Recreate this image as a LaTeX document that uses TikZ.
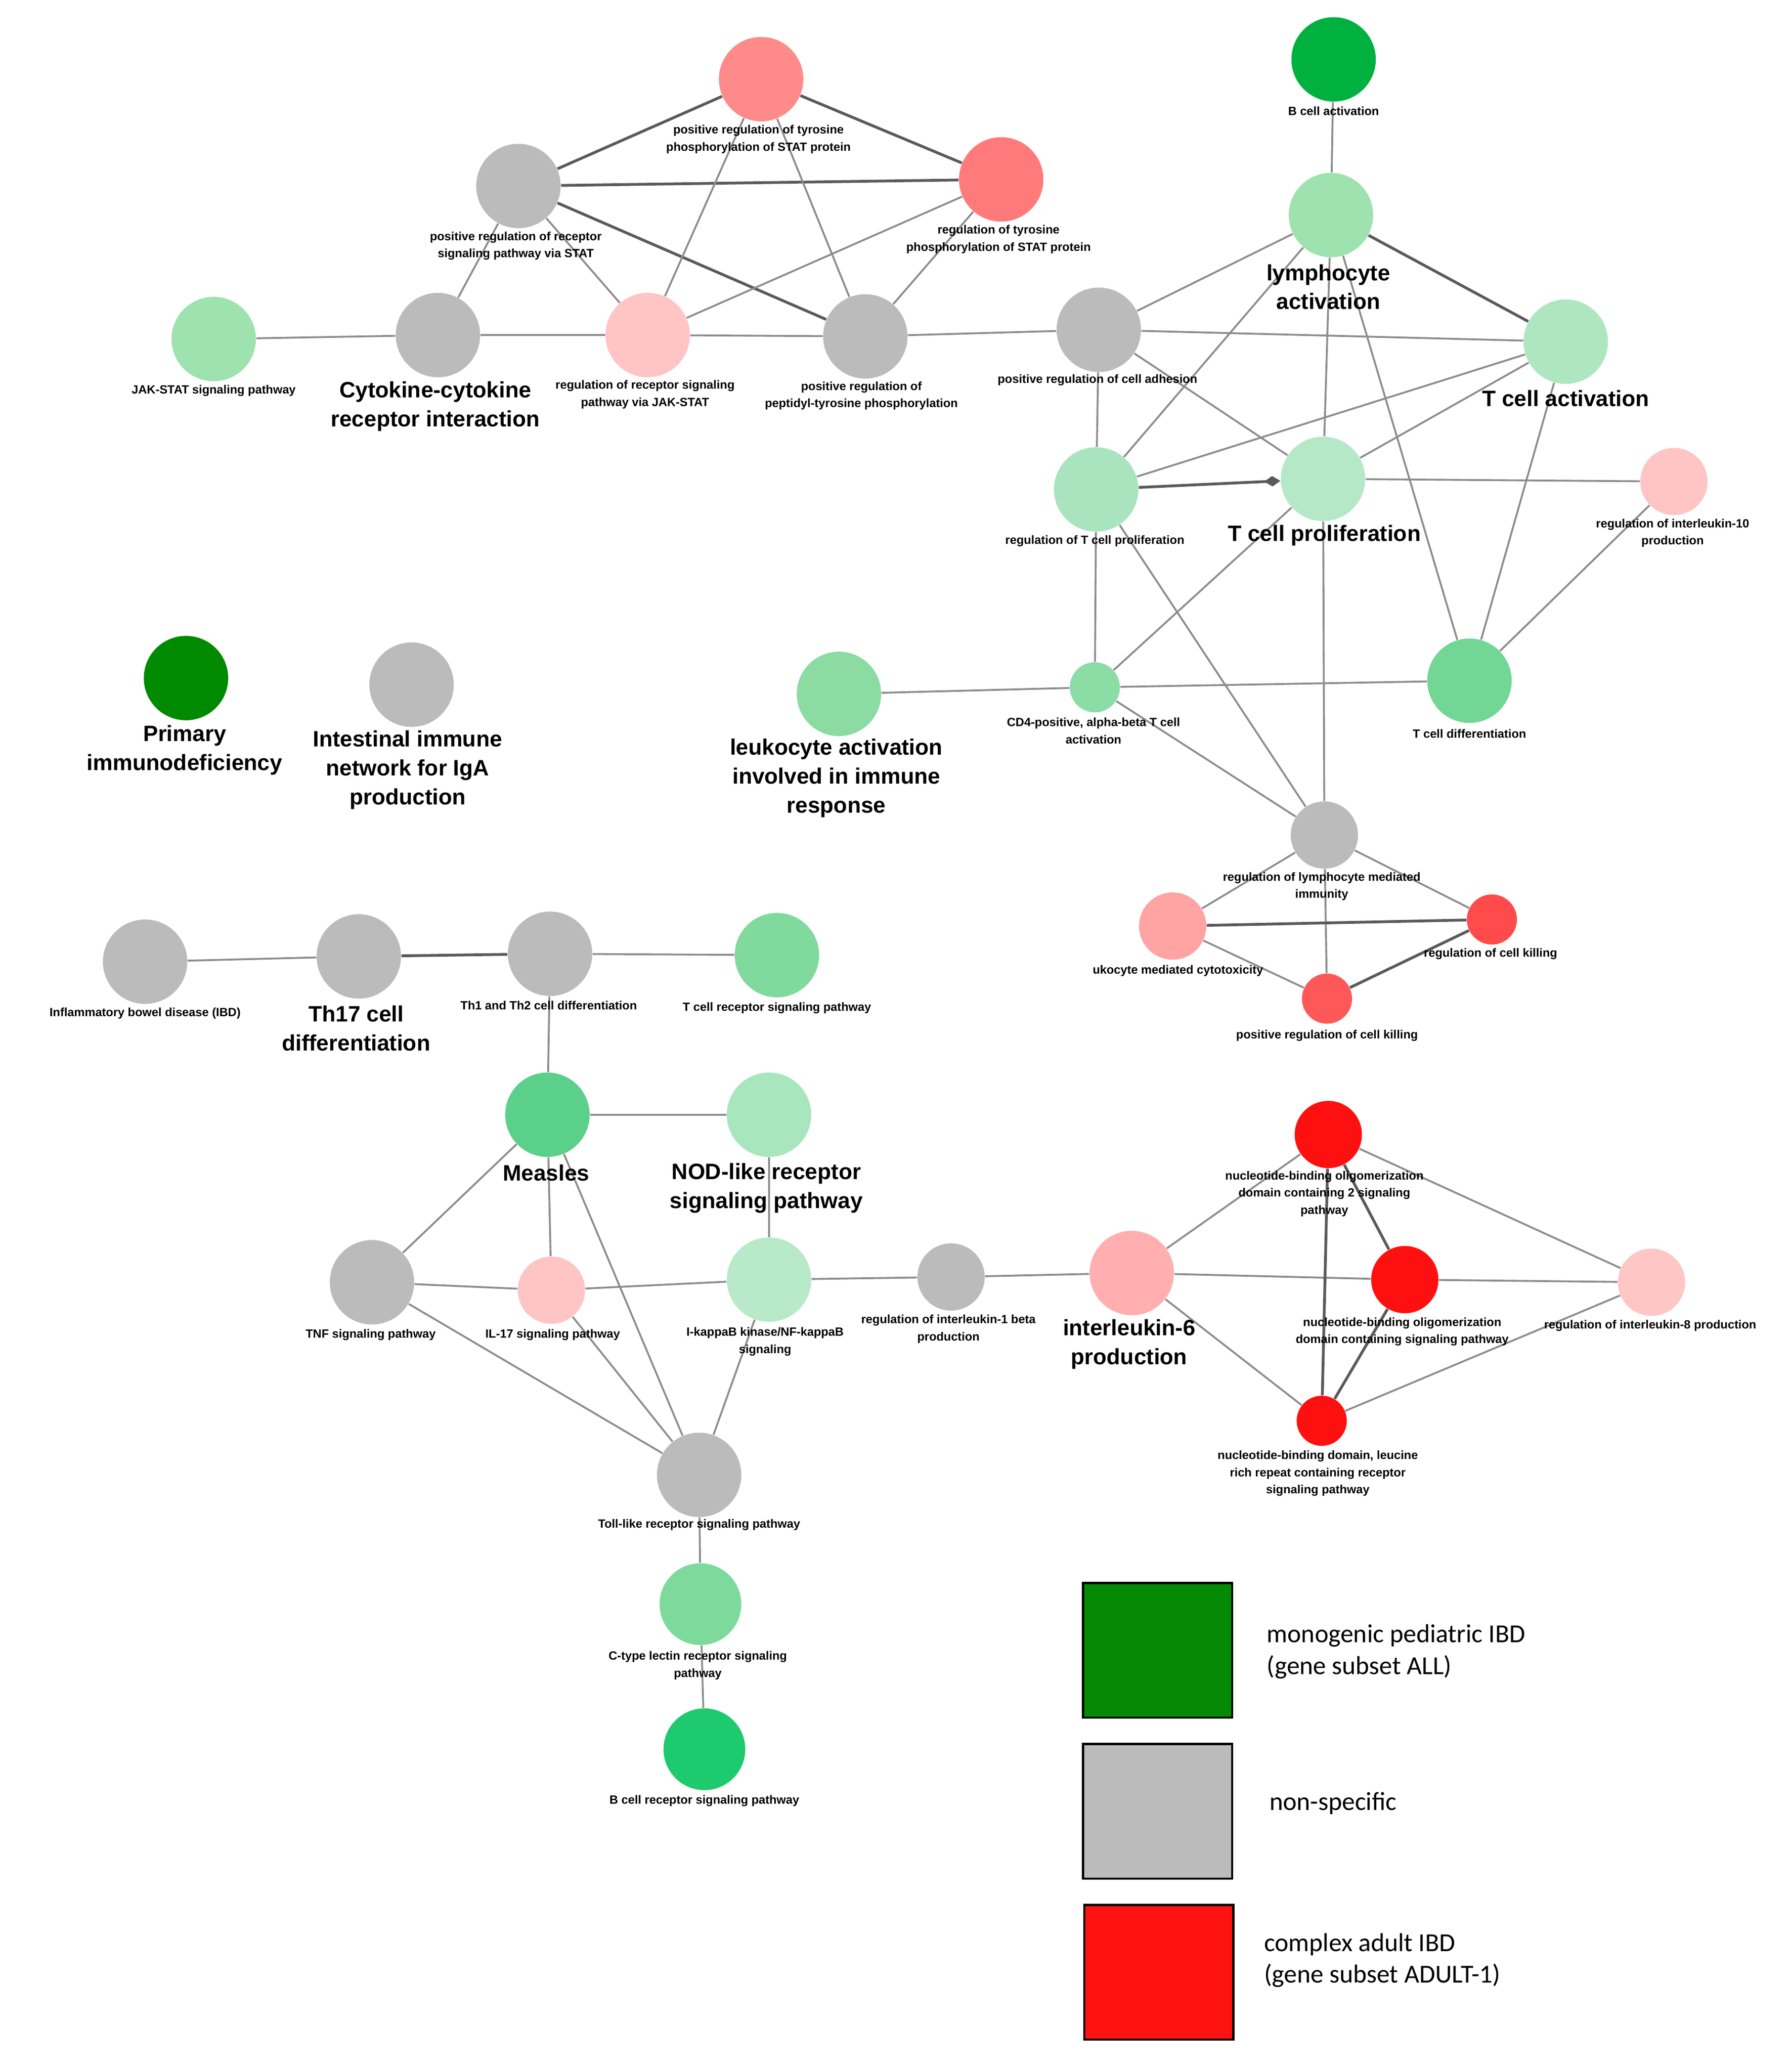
\documentclass[tikz,border=0pt]{standalone}
\usepackage{fontspec}
\setmainfont{Liberation Sans}
\newfontfamily\smallf{Liberation Sans Bold}
\newfontfamily\bigf{Liberation Sans Bold}
\newfontfamily\legf{Carlito}
\usetikzlibrary{arrows.meta}
\definecolor{ngrey}{HTML}{BBBBBB}
\definecolor{edgec}{HTML}{8C8C8C}
\definecolor{edged}{HTML}{5A5A5A}
\definecolor{cA}{HTML}{FF8A8A}
\definecolor{cB}{HTML}{FF7B7B}
\definecolor{cC}{HTML}{FFC4C4}
\definecolor{cD}{HTML}{FFC6C6}
\definecolor{cE}{HTML}{FFA3A3}
\definecolor{cF}{HTML}{FF4B4B}
\definecolor{cG}{HTML}{FF5858}
\definecolor{cH}{HTML}{FF1010}
\definecolor{cI}{HTML}{FFAFAF}
\definecolor{gA}{HTML}{00B140}
\definecolor{gB}{HTML}{9EE2B0}
\definecolor{gC}{HTML}{AEE6C0}
\definecolor{gD}{HTML}{A9E4BE}
\definecolor{gE}{HTML}{B5E8C6}
\definecolor{gF}{HTML}{8CDCA5}
\definecolor{gG}{HTML}{72D694}
\definecolor{gH}{HTML}{8BDBA3}
\definecolor{gI}{HTML}{80DA9E}
\definecolor{gJ}{HTML}{5AD08A}
\definecolor{gK}{HTML}{A8E6BD}
\definecolor{gL}{HTML}{B8E9C8}
\definecolor{gM}{HTML}{7DDA9C}
\definecolor{gN}{HTML}{1ECA6E}
\definecolor{gO}{HTML}{008A00}
\definecolor{lgG}{HTML}{058A05}
\definecolor{lgR}{HTML}{FF1212}
\tikzset{
  term/.style={circle,inner sep=0pt,minimum size=1.28cm,fill=#1,draw=none},
  mid/.style={minimum size=1.02cm},
  tiny/.style={minimum size=0.76cm},
  lab/.style={font=\smallf\fontsize{5.15}{7.4}\selectfont,align=center,inner sep=0pt},
  blab/.style={font=\bigf\fontsize{9.6}{12.5}\selectfont,align=center,inner sep=0pt},
  leg/.style={font=\legf\fontsize{11.2}{13.6}\selectfont,align=left,inner sep=0pt,anchor=west},
  legbox/.style={rectangle,draw=black,line width=0.9pt,minimum width=2.26cm,minimum height=2.04cm,inner sep=0pt,fill=#1},
  lk/.style={draw=edgec,line width=0.8pt},
  lkd/.style={draw=edged,line width=1.2pt},
}
\begin{document}
\begin{tikzpicture}[x=0.02cm,y=-0.02cm]
\fill[white] (0,0) rectangle (1357,1570.66);
\useasboundingbox (0,0) rectangle (1357,1570.66);

% ---------- top-left cluster ----------
\node[term=cA] (posTyr) at (577,60) {};
\node[term=cB] (regTyr) at (759,136) {};
\node[term=ngrey] (posRec) at (393,141) {};
\node[term=gB] (jak) at (162,257) {};
\node[term=ngrey] (cyto) at (332,254) {};
\node[term=cC] (regRec) at (491,254) {};
\node[term=ngrey] (posPep) at (656,255) {};

% ---------- right cluster ----------
\node[term=gA] (bact) at (1011,45) {};
\node[term=gB] (lymph) at (1009,163) {};
\node[term=ngrey] (adh) at (833,250) {};
\node[term=gC] (tact) at (1187,259) {};
\node[term=gD] (regTp) at (831,371) {};
\node[term=gE] (tprol) at (1003,363) {};
\node[term=cC,mid] (il10) at (1269,365) {};
\node[term=gF,tiny] (cd4) at (830,521) {};
\node[term=gG] (tdiff) at (1114,516) {};
\node[term=gH] (leuk) at (636,526) {};
\node[term=ngrey,mid] (lymi) at (1004,633) {};
\node[term=cE,mid] (lcyt) at (889,702) {};
\node[term=cF,tiny] (rck) at (1131,697) {};
\node[term=cG,tiny] (pck) at (1006,757) {};

% ---------- isolated ----------
\node[term=gO] (pid) at (141,514) {};
\node[term=ngrey] (iga) at (312,519) {};

% ---------- bottom-left cluster ----------
\node[term=ngrey] (ibd) at (110,729) {};
\node[term=ngrey] (th17) at (272,725) {};
\node[term=ngrey] (th12) at (417,723) {};
\node[term=gI] (tcr) at (589,724) {};
\node[term=gJ] (meas) at (415,845) {};
\node[term=gK] (nod) at (583,845) {};
\node[term=ngrey] (tnf) at (282,972) {};
\node[term=cC,mid] (il17) at (418,978) {};
\node[term=gL] (ikb) at (583,970) {};
\node[term=ngrey,mid] (il1b) at (721,968) {};
\node[term=ngrey] (tlr) at (530,1118) {};
\node[term=gM,minimum size=1.24cm] (ctype) at (531,1216) {};
\node[term=gN,minimum size=1.24cm] (bcr) at (534,1326) {};

% ---------- IL-6 cluster ----------
\node[term=cI] (il6) at (858,965) {};
\node[term=cH,mid] (nod2) at (1007,860) {};
\node[term=cH,mid] (nods) at (1065,970) {};
\node[term=cH,tiny] (nlr) at (1002,1077) {};
\node[term=cD,mid] (il8) at (1252,972) {};

% ---------- edges ----------
\draw[lk] (jak) -- (cyto);
\draw[lk] (cyto) -- (regRec);
\draw[lk] (regRec) -- (posPep);
\draw[lk] (posRec) -- (cyto);
\draw[lk] (posRec) -- (regRec);
\draw[lkd] (posRec) -- (posPep);
\draw[lkd] (posRec) -- (posTyr);
\draw[lkd] (posRec) -- (regTyr);
\draw[lkd] (posTyr) -- (regTyr);
\draw[lk] (posTyr) -- (regRec);
\draw[lk] (posTyr) -- (posPep);
\draw[lk] (regTyr) -- (regRec);
\draw[lk] (regTyr) -- (posPep);
\draw[lk] (posPep) -- (adh);

\draw[lk] (bact) -- (lymph);
\draw[lk] (lymph) -- (adh);
\draw[lkd] (lymph) -- (tact);
\draw[lk] (lymph) -- (regTp);
\draw[lk] (lymph) -- (tprol);
\draw[lk] (lymph) -- (tdiff);
\draw[lk] (adh) -- (tact);
\draw[lk] (adh) -- (regTp);
\draw[lk] (adh) -- (tprol);
\draw[lk] (tact) -- (regTp);
\draw[lk] (tact) -- (tprol);
\draw[lk] (tact) -- (tdiff);
\draw[lkd,-{Diamond[length=7pt,width=4.5pt]}] (regTp) -- (tprol);
\draw[lk] (tprol) -- (il10);
\draw[lk] (il10) -- (tdiff);
\draw[lk] (regTp) -- (cd4);
\draw[lk] (regTp) -- (lymi);
\draw[lk] (tprol) -- (cd4);
\draw[lk] (tprol) -- (lymi);
\draw[lk] (cd4) -- (tdiff);
\draw[lk] (cd4) -- (leuk);
\draw[lk] (cd4) -- (lymi);
\draw[lk] (lymi) -- (lcyt);
\draw[lk] (lymi) -- (rck);
\draw[lk] (lymi) -- (pck);
\draw[lkd] (lcyt) -- (rck);
\draw[lk] (lcyt) -- (pck);
\draw[lkd] (rck) -- (pck);

\draw[lk] (ibd) -- (th17);
\draw[lkd] (th17) -- (th12);
\draw[lk] (th12) -- (tcr);
\draw[lk] (th12) -- (meas);
\draw[lk] (meas) -- (nod);
\draw[lk] (meas) -- (tnf);
\draw[lk] (meas) -- (il17);
\draw[lk] (meas) -- (tlr);
\draw[lk] (tnf) -- (il17);
\draw[lk] (tnf) -- (tlr);
\draw[lk] (il17) -- (ikb);
\draw[lk] (il17) -- (tlr);
\draw[lk] (nod) -- (ikb);
\draw[lk] (ikb) -- (tlr);
\draw[lk] (ikb) -- (il1b);
\draw[lk] (il1b) -- (il6);
\draw[lk] (tlr) -- (ctype);
\draw[lk] (ctype) -- (bcr);

\draw[lk] (il6) -- (nod2);
\draw[lk] (il6) -- (nods);
\draw[lk] (il6) -- (nlr);
\draw[lkd] (nod2) -- (nods);
\draw[lkd] (nod2) -- (nlr);
\draw[lk] (nod2) -- (il8);
\draw[lkd] (nods) -- (nlr);
\draw[lk] (nods) -- (il8);
\draw[lk] (nlr) -- (il8);

% ---------- labels ----------
\node[lab] (t-posTyr) at (575,105.5) {positive regulation of tyrosine\\phosphorylation of STAT protein};
\node[lab] (t-regTyr) at (757,181.5) {regulation of tyrosine\\phosphorylation of STAT protein};
\node[lab] (t-posRec) at (391,186.5) {positive regulation of receptor\\signaling pathway via STAT};
\node[lab] (t-jak) at (162,296) {JAK-STAT signaling pathway};
\node[blab] (t-cyto) at (330,308) {Cytokine-cytokine\\receptor interaction};
\node[lab] (t-regRec) at (489,299) {regulation of receptor signaling\\pathway via JAK-STAT};
\node[lab] (t-posPep) at (653,300) {positive regulation of\\peptidyl-tyrosine phosphorylation};

\node[lab] (t-bact) at (1011,84) {B cell activation};
\node[blab] (t-lymph) at (1007,217.5) {lymphocyte\\activation};
\node[lab] (t-adh) at (832,288) {positive regulation of cell adhesion};
\node[blab] (t-tact) at (1187,302) {T cell activation};
\node[lab] (t-regTp) at (830,410) {regulation of T cell proliferation};
\node[blab] (t-tprol) at (1004,406) {T cell proliferation};
\node[lab] (t-il10) at (1268,404) {regulation of interleukin-10\\production};
\node[lab] (t-cd4) at (829,554) {CD4-positive, alpha-beta T cell\\activation};
\node[lab] (t-tdiff) at (1114,556) {T cell differentiation};
\node[blab] (t-leuk) at (634,590) {leukocyte activation\\involved in immune\\response};
\node[lab] (t-lymi) at (1002,672) {regulation of lymphocyte mediated\\immunity};
\node[lab] (t-lcyt) at (893,736) {ukocyte mediated cytotoxicity};
\node[lab] (t-rck) at (1130,723) {regulation of cell killing};
\node[lab] (t-pck) at (1006,785) {positive regulation of cell killing};

\node[blab] (t-pid) at (140,568.5) {Primary\\immunodeficiency};
\node[blab] (t-iga) at (309,583.5) {Intestinal immune\\network for IgA\\production};

\node[lab] (t-ibd) at (110,768) {Inflammatory bowel disease (IBD)};
\node[blab] (t-th17) at (270,779.5) {Th17 cell\\differentiation};
\node[lab] (t-th12) at (416,762) {Th1 and Th2 cell differentiation};
\node[lab] (t-tcr) at (589,764) {T cell receptor signaling pathway};
\node[blab] (t-meas) at (414,889) {Measles};
\node[blab] (t-nod) at (581,900.5) {NOD-like receptor\\signaling pathway};
\node[lab] (t-tnf) at (281,1012) {TNF signaling pathway};
\node[lab] (t-il17) at (419,1012) {IL-17 signaling pathway};
\node[lab] (t-ikb) at (580,1017) {I-kappaB kinase/NF-kappaB\\signaling};
\node[lab] (t-il1b) at (719,1007.5) {regulation of interleukin-1 beta\\production};
\node[lab] (t-tlr) at (530,1156) {Toll-like receptor signaling pathway};
\node[lab] (t-ctype) at (529,1262.5) {C-type lectin receptor signaling\\pathway};
\node[lab] (t-bcr) at (534,1365) {B cell receptor signaling pathway};

\node[blab] (t-il6) at (856,1019) {interleukin-6\\production};
\node[lab] (t-nod2) at (1004,905) {nucleotide-binding oligomerization\\domain containing 2 signaling\\pathway};
\node[lab] (t-nods) at (1063,1009.5) {nucleotide-binding oligomerization\\domain containing signaling pathway};
\node[lab] (t-nlr) at (999,1117) {nucleotide-binding domain, leucine\\rich repeat containing receptor\\signaling pathway};
\node[lab] (t-il8) at (1251,1005) {regulation of interleukin-8 production};

% ---------- legend ----------
\node[legbox=lgG] (lg1) at (877.5,1251) {};
\node[legbox=ngrey] (lg2) at (877.5,1373) {};
\node[legbox=lgR] (lg3) at (878.5,1495) {};
\node[leg] (lt1) at (960,1252) {monogenic pediatric IBD\\(gene subset ALL)};
\node[leg] (lt2) at (962,1367) {non-specific};
\node[leg] (lt3) at (958,1486) {complex adult IBD\\(gene subset ADULT-1)};
\end{tikzpicture}
\end{document}
